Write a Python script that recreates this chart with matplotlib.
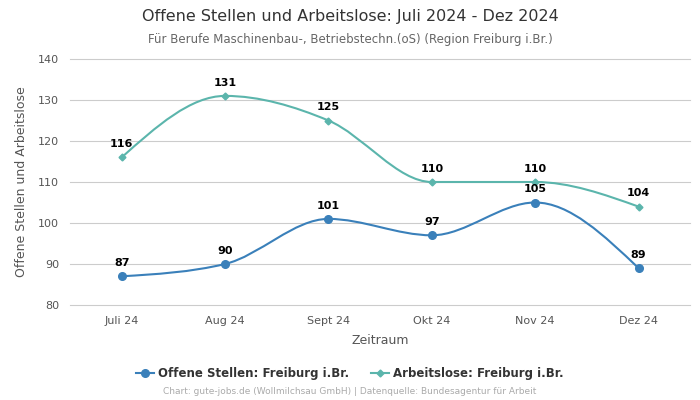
import matplotlib
matplotlib.use('Agg')
import matplotlib.pyplot as plt
import numpy as np
from matplotlib.path import Path
from matplotlib.patches import PathPatch
from matplotlib.lines import Line2D

# data
months = ["Juli 24", "Aug 24", "Sept 24", "Okt 24", "Nov 24", "Dez 24"]
offene_stellen = [87, 90, 101, 97, 105, 89]
arbeitslose = [116, 131, 125, 110, 110, 104]
y_ticks = [80, 90, 100, 110, 120, 130, 140]

BLUE = '#3a80ba'
TEAL = '#5bb5ac'


def monotone_tangents(x, y):
    """d3 monotoneX style tangents"""
    n = len(x)
    t = np.zeros(n)
    for i in range(1, n - 1):
        h0 = x[i] - x[i - 1]
        h1 = x[i + 1] - x[i]
        s0 = (y[i] - y[i - 1]) / h0
        s1 = (y[i + 1] - y[i]) / h1
        p = (s0 * h1 + s1 * h0) / (h0 + h1)
        t[i] = (np.sign(s0) + np.sign(s1)) * min(abs(s0), abs(s1), 0.5 * abs(p))
    h = x[1] - x[0]
    t[0] = (3 * (y[1] - y[0]) / h - t[1]) / 2
    h = x[-1] - x[-2]
    t[-1] = (3 * (y[-1] - y[-2]) / h - t[-2]) / 2
    return t


def smooth_path(x, y):
    t = monotone_tangents(x, y)
    verts = [(x[0], y[0])]
    codes = [Path.MOVETO]
    for i in range(len(x) - 1):
        dx = (x[i + 1] - x[i]) / 3
        verts += [(x[i] + dx, y[i] + dx * t[i]),
                  (x[i + 1] - dx, y[i + 1] - dx * t[i + 1]),
                  (x[i + 1], y[i + 1])]
        codes += [Path.CURVE4] * 3
    return Path(verts, codes)


fig = plt.figure(figsize=(7, 4), dpi=100)
ax = fig.add_axes([0.1, 0.2375, 0.886, 0.615])

xs = np.arange(len(months), dtype=float)

for vals, color, marker, ms in [(offene_stellen, BLUE, 'o', 5.5),
                                (arbeitslose, TEAL, 'D', 3.5)]:
    ax.add_patch(PathPatch(smooth_path(xs, np.array(vals, dtype=float)),
                           facecolor='none', edgecolor=color, lw=1.5, zorder=3))
    ax.plot(xs, vals, linestyle='none', marker=marker, markersize=ms,
            color=color, zorder=4)
    for x, v in zip(xs, vals):
        ax.annotate(str(v), (x, v), xytext=(0, 6), textcoords='offset points',
                    ha='center', va='bottom', fontsize=8, fontweight='bold',
                    color='black', zorder=5)

ax.set_xlim(-0.5, 5.5)
ax.set_ylim(80, 140)
ax.set_xticks(xs)
ax.set_xticklabels(months)
ax.set_yticks(y_ticks)
ax.tick_params(axis='both', length=0, labelsize=8, colors='#555555', pad=8)
ax.grid(axis='y', color='#cccccc', linewidth=0.8)
for gl in ax.get_ygridlines():
    gl.set_clip_on(False)
ax.set_axisbelow(True)
for s in ax.spines.values():
    s.set_visible(False)

ax.set_xlabel('Zeitraum', fontsize=9, color='#555555', labelpad=6)
ax.set_ylabel('Offene Stellen und Arbeitslose', fontsize=9, color='#555555', labelpad=7)

fig.text(0.5, 0.958, 'Offene Stellen und Arbeitslose: Juli 2024 - Dez 2024',
         ha='center', va='center', fontsize=11.5, color='#333333')
fig.text(0.5, 0.902, 'Für Berufe Maschinenbau-, Betriebstechn.(oS) (Region Freiburg i.Br.)',
         ha='center', va='center', fontsize=8.5, color='#666666')

handles = [Line2D([0], [0], color=BLUE, marker='o', markersize=5.5, lw=1.5),
           Line2D([0], [0], color=TEAL, marker='D', markersize=3.5, lw=1.5)]
fig.legend(handles, ['Offene Stellen: Freiburg i.Br.', 'Arbeitslose: Freiburg i.Br.'],
           loc='center', bbox_to_anchor=(0.5, 0.067), ncol=2, frameon=False,
           prop={'size': 8.5, 'weight': 'bold'}, labelcolor='#333333',
           handlelength=1.5, handletextpad=0.4, columnspacing=1.8)

fig.text(0.5, 0.02, 'Chart: gute-jobs.de (Wollmilchsau GmbH) | Datenquelle: Bundesagentur für Arbeit',
         ha='center', va='center', fontsize=6.5, color='#aaaaaa')

fig.savefig('out.png', dpi=100, facecolor='white')
